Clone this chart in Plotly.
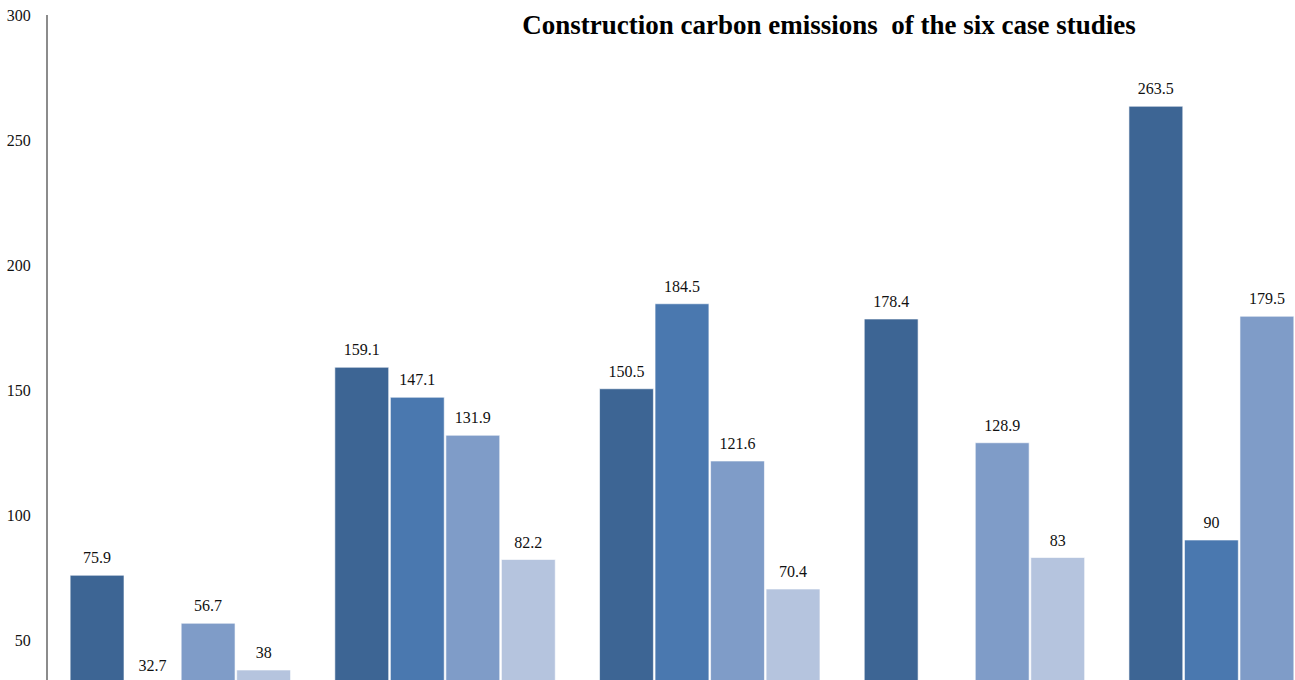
import plotly.graph_objects as go

cases = ["Case 1", "Case 2", "Case 3", "Case 4", "Case 5", "Case 6"]
series_names = ["Scheme A", "Scheme B", "Scheme C", "Scheme D"]
series_a = [75.9, 159.1, 150.5, 178.4, 263.5, None]
series_b = [32.7, 147.1, 184.5, None, 90, None]
series_c = [56.7, 131.9, 121.6, 128.9, 179.5, None]
series_d = [38, 82.2, 70.4, 83, None, None]
colors = ["#3d6594", "#4a78af", "#7f9cc8", "#b5c4de"]
y_ticks = [50, 100, 150, 200, 250, 300]

SERIF = "Liberation Serif, Times New Roman, Times, serif"

all_series = [series_a, series_b, series_c, series_d]
bargap = 0.161
n = len(all_series)
slot = (1 - bargap) / n
xpos = list(range(len(cases)))

fig = go.Figure()
for s, (name, vals, col) in enumerate(zip(series_names, all_series, colors)):
    fig.add_trace(go.Bar(
        x=xpos, y=vals, name=name,
        marker=dict(color=col, line=dict(color="rgba(255,255,255,0.6)", width=1)),
        showlegend=False, hoverinfo="skip",
    ))
# value labels
for s, vals in enumerate(all_series):
    off = (s - (n - 1) / 2) * slot
    xs, ys, ts = [], [], []
    for i, v in enumerate(vals):
        if v is not None:
            xs.append(xpos[i] + off)
            ys.append(v)
            ts.append(f"{v:g}")
    fig.add_trace(go.Scatter(
        x=xs, y=ys, text=ts, mode="text+markers",
        marker=dict(size=11, opacity=0),
        textposition="top center",
        textfont=dict(family=SERIF, size=16, color="#111111"),
        cliponaxis=True, showlegend=False, hoverinfo="skip",
    ))

fig.update_layout(
    width=1295, height=680,
    margin=dict(l=48, r=0, t=15, b=0),
    paper_bgcolor="white", plot_bgcolor="white",
    barmode="group", bargap=bargap, bargroupgap=0.03,
    title=dict(text="<b>Construction carbon emissions  of the six case studies</b>",
               x=829 / 1295, xref="container", xanchor="center",
               y=1 - 25 / 680, yref="container", yanchor="middle",
               font=dict(family=SERIF, size=27, color="black")),
    xaxis=dict(range=[-0.5, 4.211], visible=False, showgrid=False, zeroline=False),
    yaxis=dict(range=[34, 300], tickvals=y_ticks, showgrid=False, zeroline=False,
               showline=True, linecolor="#8c8c8c", linewidth=2,
               ticks="", ticklabelstandoff=12,
               tickfont=dict(family=SERIF, size=16, color="#111111")),
)

fig.write_html("out.html")
